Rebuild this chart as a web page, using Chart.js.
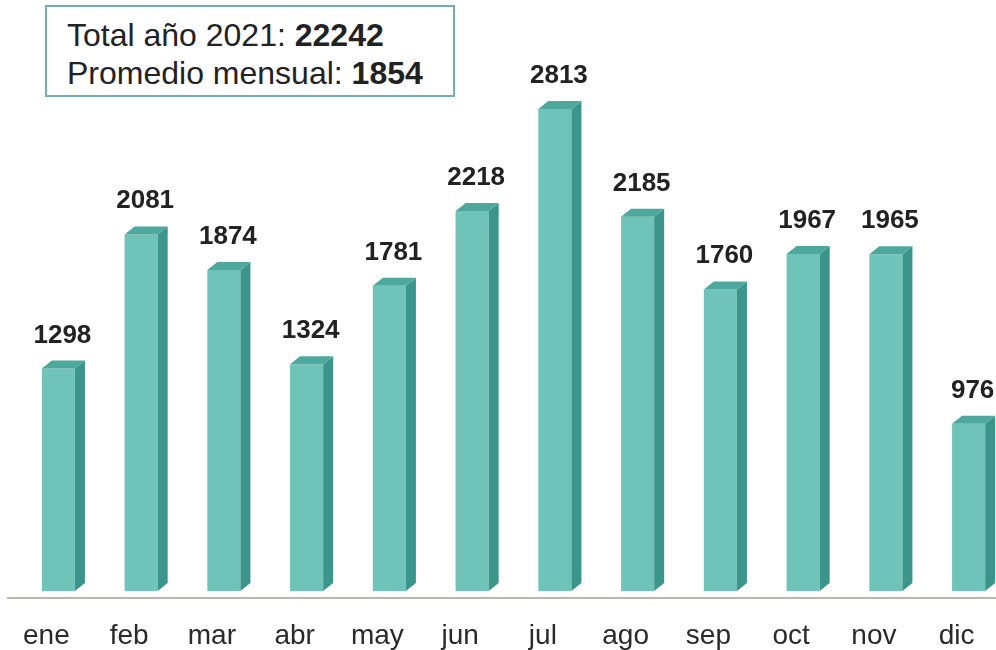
<!DOCTYPE html>
<html>
<head>
<meta charset="utf-8">
<script src="https://cdn.jsdelivr.net/npm/chart.js@4.4.1/dist/chart.umd.min.js"></script>
<style>
  html, body { margin: 0; padding: 0; background: #fff; }
  #frame { position: relative; width: 996px; height: 650px; overflow: hidden; }
  #wrap { position: absolute; left: 0; top: 0; width: 1012px; height: 650px; }
  #summary {
    position: absolute; left: 45px; top: 5px; width: 386px; height: 88px;
    border: 2px solid #74aeb1; background: #fff;
    font-family: "Liberation Sans", Arial, sans-serif; font-size: 32px;
    color: #222; line-height: 38px; padding: 0 0 0 20px; box-sizing: content-box;
  }
  #summary div { white-space: nowrap; }
</style>
</head>
<body>
<div id="frame">
  <div id="wrap"><canvas id="monthChart"></canvas></div>
  <div id="summary">
    <div style="margin-top:9px">Total año 2021: <b>22242</b></div>
    <div>Promedio mensual: <b>1854</b></div>
  </div>
</div>
<script>
const months = ['ene', 'feb', 'mar', 'abr', 'may', 'jun', 'jul', 'ago', 'sep', 'oct', 'nov', 'dic'];
const totals = [1298, 2081, 1874, 1324, 1781, 2218, 2813, 2185, 1760, 1967, 1965, 976];
const yRange = [-41, 3000];

const FRONT = '#6fc3b9';
const SIDE = '#3b958b';
const TOP = '#4ea89e';
const DX = 10, DY = 8;

// side + top faces so the bars look like boxes
const boxBars = {
    id: 'boxBars',
    afterDatasetsDraw(chart) {
        const ctx = chart.ctx;
        const meta = chart.getDatasetMeta(0);
        ctx.save();
        meta.data.forEach((bar) => {
            const l = bar.x - bar.width / 2, r = bar.x + bar.width / 2;
            const t = bar.y, b = bar.base;
            ctx.fillStyle = SIDE;
            ctx.beginPath();
            ctx.moveTo(r, t); ctx.lineTo(r + DX, t - DY);
            ctx.lineTo(r + DX, b - DY); ctx.lineTo(r, b);
            ctx.closePath(); ctx.fill();
            ctx.fillStyle = TOP;
            ctx.beginPath();
            ctx.moveTo(l, t); ctx.lineTo(l + DX, t - DY);
            ctx.lineTo(r + DX, t - DY); ctx.lineTo(r, t);
            ctx.closePath(); ctx.fill();
        });
        // value labels
        ctx.fillStyle = '#222';
        ctx.font = 'bold 26px "Liberation Sans", Arial, sans-serif';
        ctx.textAlign = 'center';
        ctx.textBaseline = 'alphabetic';
        meta.data.forEach((bar, i) => {
            ctx.fillText(totals[i], bar.x + 4, bar.y - 26);
        });
        // floor line
        const y = chart.chartArea.bottom;
        ctx.strokeStyle = '#bdb6a6';
        ctx.lineWidth = 2;
        ctx.beginPath();
        ctx.moveTo(7, y); ctx.lineTo(chart.width, y);
        ctx.stroke();
        ctx.restore();
    }
};

new Chart(document.getElementById('monthChart').getContext('2d'), {
    type: 'bar',
    data: {
        labels: months,
        datasets: [{
            data: totals,
            backgroundColor: FRONT,
            borderWidth: 0,
            categoryPercentage: 1,
            barPercentage: 0.4
        }]
    },
    options: {
        responsive: true,
        maintainAspectRatio: false,
        animation: false,
        layout: { padding: { top: 77, left: 17, right: 2, bottom: 0 } },
        plugins: { legend: { display: false }, tooltip: { enabled: false } },
        scales: {
            x: {
                grid: { display: false },
                border: { display: false },
                afterFit: (scale) => { scale.height = 52; },
                ticks: {
                    color: '#2a2a2a',
                    font: { size: 28, family: '"Liberation Sans", Arial, sans-serif' },
                    labelOffset: -12,
                    padding: 13,
                    maxRotation: 0
                }
            },
            y: {
                display: false,
                min: yRange[0],
                max: yRange[1]
            }
        }
    },
    plugins: [boxBars]
});
</script>
</body>
</html>
